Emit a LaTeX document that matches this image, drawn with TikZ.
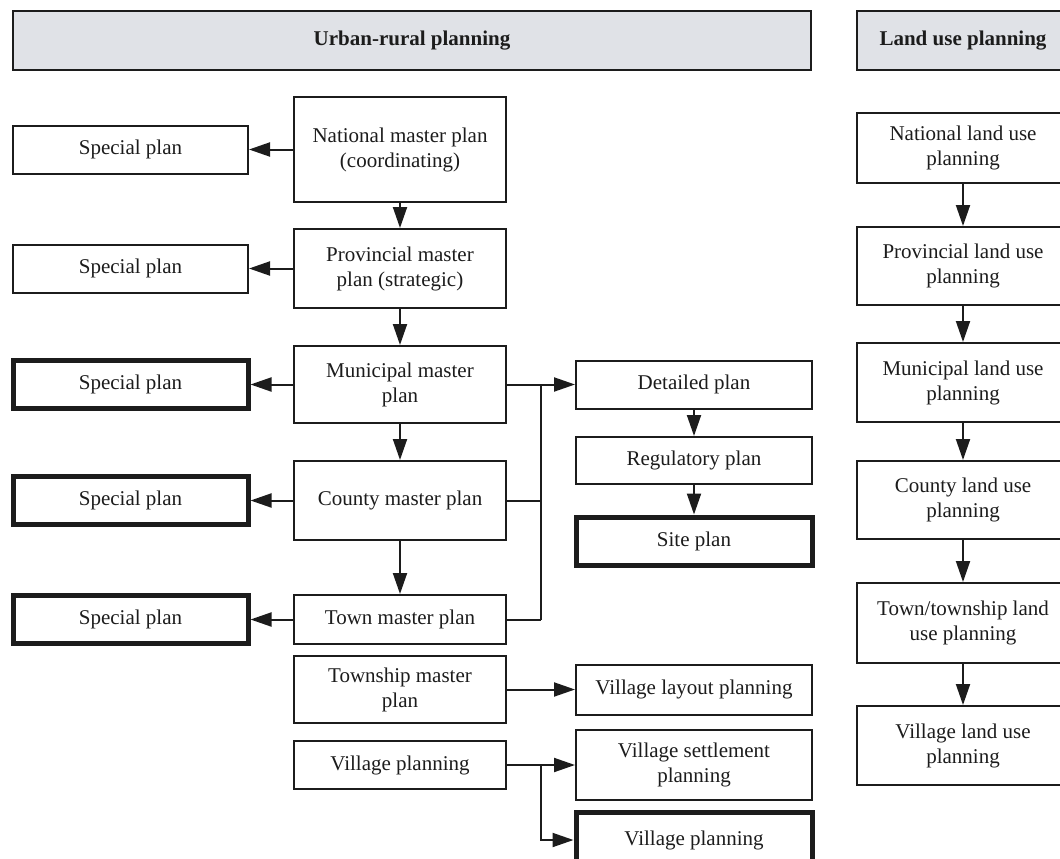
\documentclass[tikz,border=0pt]{standalone}
\usepackage{fontspec}
\setmainfont{Liberation Serif}
\usetikzlibrary{arrows.meta}
\definecolor{hdr}{RGB}{224,226,231}
\definecolor{ink}{RGB}{28,28,28}
\begin{document}
\begin{tikzpicture}[x=1pt,y=-1pt,
  every node/.style={font=\fontsize{21}{25}\selectfont, text=ink, align=center},
  box/.style={draw=ink, line width=2pt, fill=white, rectangle, inner sep=0pt},
  thickbox/.style={box, line width=5pt},
  hdrbox/.style={box, fill=hdr, font=\fontsize{21}{25}\selectfont\bfseries},
  leftbox/.style={minimum width=235pt, minimum height=48pt},
  midbox/.style={minimum width=212pt},
  rbox/.style={minimum width=236pt},
  landbox/.style={minimum width=212pt},
  arr/.style={draw=ink, line width=2pt, -{Triangle[length=21pt,width=14pt]}},
  ln/.style={draw=ink, line width=2pt}]
\useasboundingbox (0,0) rectangle (1060,859);
\clip (0,0) rectangle (1060,859);

% headers
\node[hdrbox, minimum width=798pt, minimum height=59pt] (hU) at (412,40.5) {Urban-rural planning};
\node[hdrbox, minimum width=212pt, minimum height=59pt] (hL) at (963,40.5) {Land use planning};

% centre column
\node[box, midbox, minimum height=105pt] (nat) at (400,149.5) {National master plan\\(coordinating)};
\node[box, midbox, minimum height=79pt] (prov) at (400,268.5) {Provincial master\\plan (strategic)};
\node[box, midbox, minimum height=77pt] (mun) at (400,384.5) {Municipal master\\plan};
\node[box, midbox, minimum height=79pt] (cty) at (400,500.5) {County master plan};
\node[box, midbox, minimum height=49pt] (town) at (400,619.5) {Town master plan};
\node[box, midbox, minimum height=67pt] (twp) at (400,689.5) {Township master\\plan};
\node[box, midbox, minimum height=48pt] (vil) at (400,765) {Village planning};

% special plans
\node[box, leftbox] (sp1) at (130.5,149.5) {Special plan};
\node[box, leftbox] (sp2) at (130.5,268.5) {Special plan};
\node[thickbox, leftbox] (sp3) at (130.5,384.5) {Special plan};
\node[thickbox, leftbox] (sp4) at (130.5,500.5) {Special plan};
\node[thickbox, leftbox] (sp5) at (130.5,619.5) {Special plan};

% right-middle column
\node[box, rbox, minimum height=48pt] (det) at (694,384.5) {Detailed plan};
\node[box, rbox, minimum height=47pt] (reg) at (694,460.5) {Regulatory plan};
\node[thickbox, rbox, minimum height=48pt] (site) at (694,541) {Site plan};
\node[box, rbox, minimum height=50pt] (vlay) at (694,689.5) {Village layout planning};
\node[box, rbox, minimum height=70pt] (vset) at (694,765) {Village settlement\\planning};
\node[thickbox, rbox, minimum height=56pt] (vpl) at (694,840) {Village planning};

% land use column
\node[box, landbox, minimum height=70pt] (lnat) at (963,148) {National land use\\planning};
\node[box, landbox, minimum height=78pt] (lprov) at (963,266) {Provincial land use\\planning};
\node[box, landbox, minimum height=79pt] (lmun) at (963,382.5) {Municipal land use\\planning};
\node[box, landbox, minimum height=78pt] (lcty) at (963,500) {County land use\\planning};
\node[box, landbox, minimum height=80pt] (ltown) at (963,623) {Town/township land\\use planning};
\node[box, landbox, minimum height=79pt] (lvil) at (963,745.5) {Village land use\\planning};

% helper coordinates
\coordinate (busx) at (541,0);
\coordinate (vbx) at (541,0);

% centre column arrows
\draw[arr] (nat) -- (prov);
\draw[arr] (prov) -- (mun);
\draw[arr] (mun) -- (cty);
\draw[arr] (cty) -- (town);

% special plan arrows
\draw[arr] (nat.west) -- (sp1.east);
\draw[arr] (prov.west) -- (sp2.east);
\draw[arr] (mun.west) -- (sp3.east);
\draw[arr] (cty.west) -- (sp4.east);
\draw[arr] (town.west) -- (sp5.east);

% bus to detailed plan
\draw[arr] (mun.east) -- (det.west);
\draw[ln] (mun.east -| busx) -- (town.east -| busx);
\draw[ln] (cty.east) -- (cty.east -| busx);
\draw[ln] (town.east) -- (town.east -| busx);
\draw[arr] (det) -- (reg);
\draw[arr] (reg) -- (site);

% township / village
\draw[arr] (twp.east) -- (vlay.west);
\draw[arr] (vil.east) -- (vset.west);
\draw[arr] (vil.east -| vbx) |- (vpl.west);

% land use arrows
\draw[arr] (lnat) -- (lprov);
\draw[arr] (lprov) -- (lmun);
\draw[arr] (lmun) -- (lcty);
\draw[arr] (lcty) -- (ltown);
\draw[arr] (ltown) -- (lvil);
\end{tikzpicture}
\end{document}
